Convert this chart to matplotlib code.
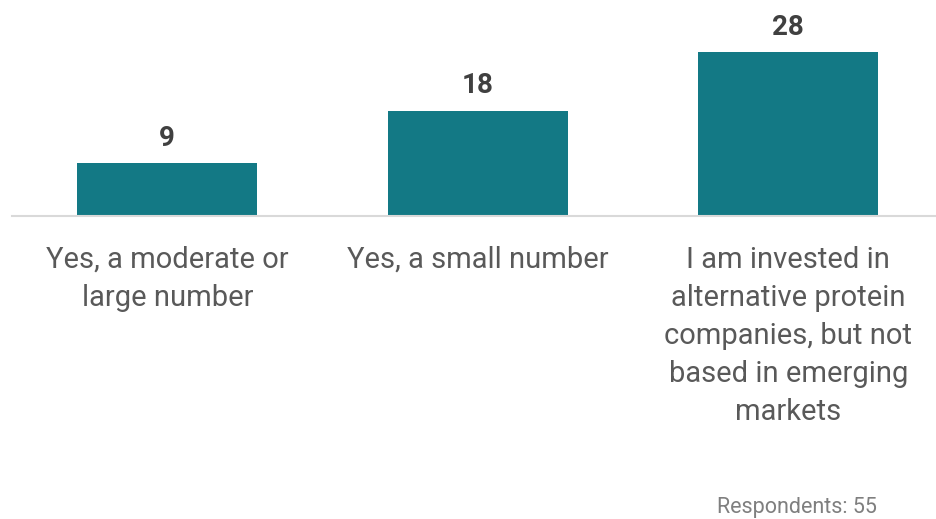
import matplotlib
matplotlib.use("Agg")
import matplotlib.pyplot as plt

categories = ["Yes, a moderate or\nlarge number",
              "Yes, a small number",
              "I am invested in\nalternative protein\ncompanies, but not\nbased in emerging\nmarkets"]
values = [9, 18, 28]
note = "Respondents: 55"

plt.rcParams['font.family'] = ['Roboto', 'DejaVu Sans']

W, H = 936, 519
fig = plt.figure(figsize=(W/100, H/100), dpi=100)
base_y = 216
ax = fig.add_axes([12/W, 1 - base_y/H, 931.5/W, base_y/H])
ax.set_xlim(-0.5, 2.5)
ax.set_ylim(0, base_y/5.857)
x = list(range(len(values)))
bars = ax.bar(x, values, width=0.58, color="#137985")
for xi, v in zip(x, values):
    ax.annotate(str(v), (xi, v), xytext=(0, 8), textcoords="offset points",
                ha="center", va="bottom", fontsize=20, fontweight="bold", color="#404040")
for s in ["top", "right", "left"]:
    ax.spines[s].set_visible(False)
ax.spines["bottom"].set_color("#d9d9d9")
ax.spines["bottom"].set_linewidth(1.5)
ax.set_yticks([])
ax.set_xticks(x)
ax.set_xticklabels(categories, fontsize=21, color="#595959", linespacing=1.46, va="top")
ax.tick_params(axis="x", length=0, pad=21.5)
fig.text(877/W, 1 - 513.5/H, note, ha="right", va="baseline", fontsize=15.5, color="#7f7f7f")
fig.savefig("out.png", dpi=100)
